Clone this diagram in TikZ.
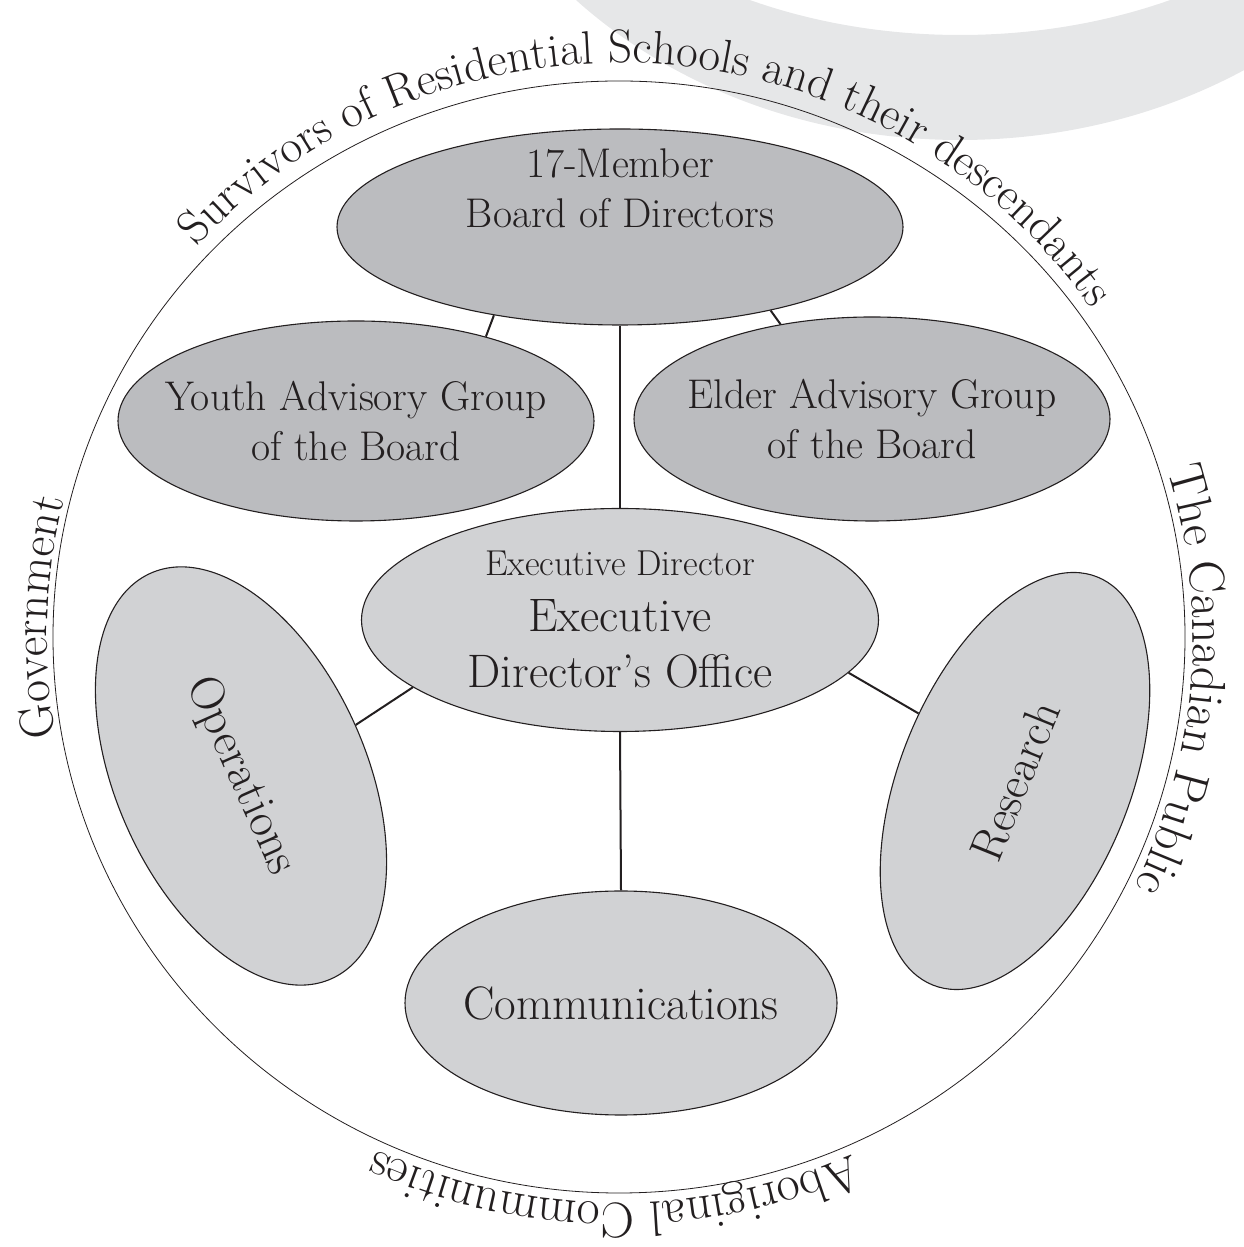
\documentclass[tikz,border=0pt]{standalone}
\usetikzlibrary{shapes.geometric,decorations.text}
\definecolor{boardgray}{RGB}{187,188,191}
\definecolor{unitgray}{RGB}{209,210,212}
\definecolor{bandgray}{RGB}{230,231,232}
\definecolor{inkblack}{RGB}{35,31,32}
\begin{document}
\begin{tikzpicture}[x=1pt, y=1pt,
    group/.style ={ellipse, draw=inkblack, line width=1.1pt, fill=boardgray, inner sep=0pt},
    unit/.style ={ellipse, draw=inkblack, line width=1.1pt, fill=unitgray, inner sep=0pt},
    caption/.style ={align=center, inner sep=0pt, text=inkblack},
    link/.style ={line width=2pt, draw=inkblack},
    ringtext/.style 2 args ={decorate, decoration={text along path, text align=center,
      text={|\fontsize{#1}{#1}\selectfont\color{inkblack}|#2}}}]
  \useasboundingbox (0,0) rectangle (1244,1247);
  \begin{scope}
    \clip (0,0) rectangle (1244,1247);
    \fill[bandgray, even odd rule] (960,1547) ellipse [x radius=525, y radius=440]
      (960,1547) ellipse [x radius=472, y radius=335];
  \end{scope}

  \coordinate (c) at (619,610);
  \draw[line width=0.8pt, inkblack] (c) ellipse [x radius=566, y radius=556];
  \path[ringtext={47}{Survivors of Residential Schools and their descendants}]
    ([shift={(c)}]146:576 and 574) arc [start angle=146, end angle=26, x radius=576, y radius=574];
  \path[ringtext={50}{The Canadian Public}]
    ([shift={(c)}]41:574 and 568) arc [start angle=41, end angle=-50, x radius=574, y radius=568];
  \path[ringtext={50}{Aboriginal Communities}]
    ([shift={(c)}]-45:574 and 566) arc [start angle=-45, end angle=-136, x radius=574, y radius=566];
  \path[ringtext={48}{Government}]
    ([shift={(c)}]215:572 and 566) arc [start angle=215, end angle=141, x radius=572, y radius=566];

  \node[group, minimum width=566, minimum height=196,
    label={[caption, yshift=39, font=\fontsize{41.5}{50}\selectfont]center:{17-Member\\Board of Directors}}] (board) at (620,1020) {};
  \node[group, minimum width=476, minimum height=200,
    label={[caption, font=\fontsize{41.5}{50}\selectfont]center:{Youth Advisory Group\\of the Board}}] (youth) at (356,826) {};
  \node[group, minimum width=476, minimum height=204,
    label={[caption, font=\fontsize{41.5}{50}\selectfont]center:{Elder Advisory Group\\of the Board}}] (elder) at (872,828) {};
  \node[unit, minimum width=517, minimum height=223,
    label={[caption, font=\fontsize{47}{56}\selectfont]center:{{\fontsize{36}{42}\selectfont Executive Director}\\Executive\\Director's Office}}] (ed) at (620,627) {};
  \node[unit, rotate=-66, minimum width=444, minimum height=250,
    label={[caption, rotate=-66, font=\fontsize{48}{50}\selectfont]center:Operations}] (ops) at (241,471) {};
  \node[unit, rotate=68, minimum width=440, minimum height=230,
    label={[caption, rotate=68, font=\fontsize{47}{50}\selectfont]center:Research}] (research) at (1015,466) {};
  \node[unit, minimum width=432, minimum height=224,
    label={[caption, font=\fontsize{47}{50}\selectfont]center:Communications}] (comm) at (621,244) {};

  \draw[link] (board.215) -- (youth.33);
  \draw[link] (board.331) -- (elder.134);
  \draw[link] (board.south) -- (ed.north);
  \draw[link] (ed.198) -- (ops.north);
  \draw[link] (ed.347) -- (research.77);
  \draw[link] (ed.south) -- (comm.north);
\end{tikzpicture}
\end{document}
